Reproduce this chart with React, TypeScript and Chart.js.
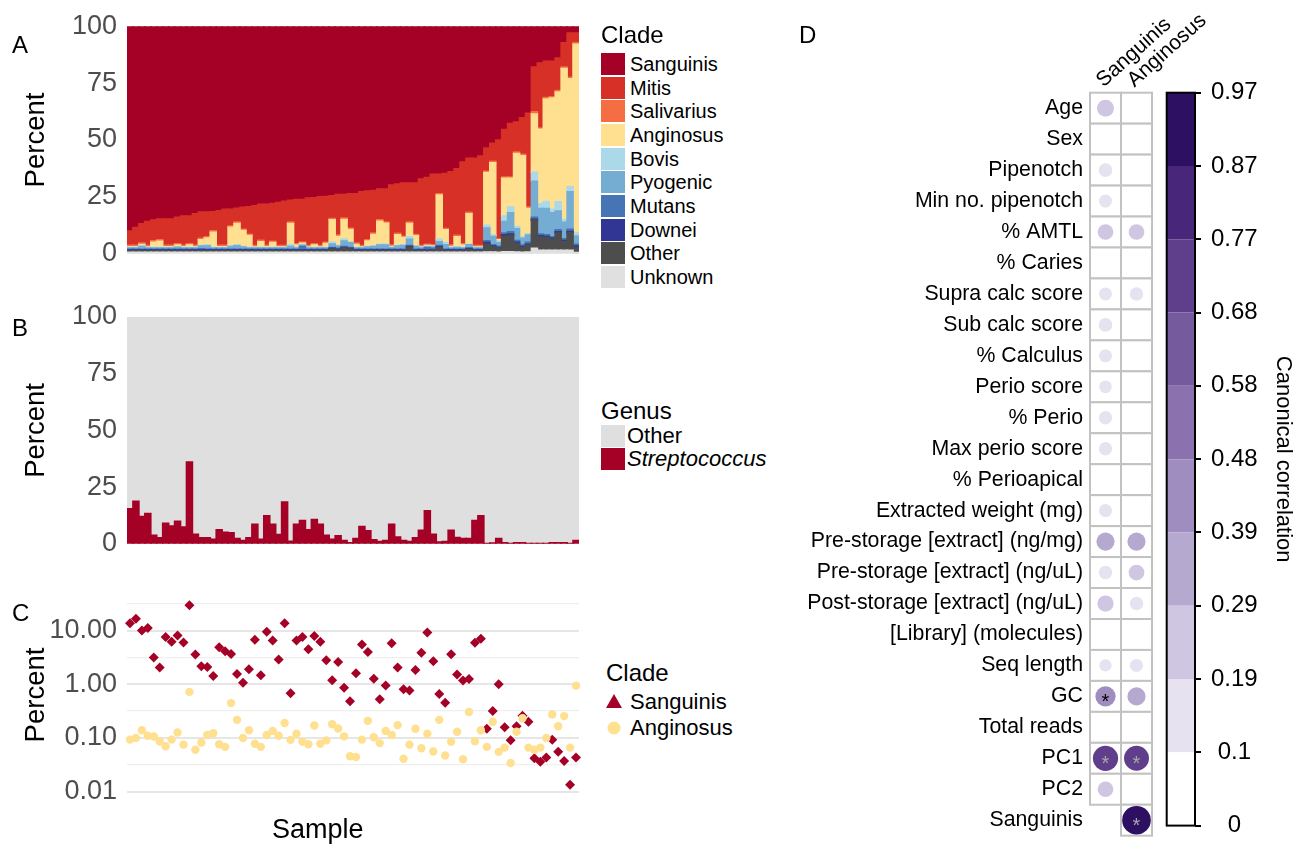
import React, { useEffect, useRef } from 'react';
import { Chart, registerables } from 'chart.js';

Chart.register(...registerables);

const FONT = '"Liberation Sans", Arial, Helvetica, sans-serif';
const TICK_GREY = '#4D4D4D';

// ---------------- Data ----------------
const sampleIds: string[] = Array.from({ length: 76 }, (_, i) => String(i + 1));

// Panel A: relative abundance of Streptococcus clades (% of Streptococcus)
const sanguinisRel = [
  90, 88.5, 86.8, 85.8, 85.2, 84.7, 84.7, 84.7, 84, 83.4,
  83.4, 82.4, 81.7, 81.7, 81.5, 81.1, 80.4, 80.4, 80, 79.6,
  79.4, 78.9, 78.3, 78.3, 77.9, 77.5, 76.9, 76.5, 76.2, 76.2,
  75.5, 75.4, 75, 74.9, 74.5, 74, 74, 73.6, 73.6, 72.8,
  72.4, 72.2, 71.6, 71.6, 69.8, 69.4, 68.9, 68.9, 68.9, 67.2,
  66.5, 65.1, 65.1, 64.7, 64, 62.6, 59.7, 58, 58, 57,
  53.5, 51.5, 50, 45.4, 42.8, 42.1, 40.3, 38.3, 18, 16.2,
  15.4, 15.4, 14, 7.3, 3, 3,
];
const mitisRel = [
  6.3, 7.8, 8.5, 10.6, 9.1, 9.2, 11.6, 11.6, 11.6, 12.9,
  12.2, 13.9, 11.5, 10.8, 8.4, 15.2, 15.9, 7.4, 6.1, 9.6,
  12, 17.5, 15.8, 18, 16.6, 18.9, 19.5, 9.6, 19.4, 18.6,
  20.9, 20.2, 21.4, 20, 10, 17.8, 10.3, 15.2, 21.7, 23.6,
  21.4, 18.7, 13.5, 14.4, 26.4, 21.6, 23.4, 17.2, 22.6, 29.2,
  29.3, 30.9, 8.5, 24.2, 32.2, 29.3, 35.9, 23.8, 38.4, 39.4,
  10.2, 7.9, 43.5, 20.9, 23.5, 13.2, 16, 41.2, 19.6, 28.5,
  16, 15.6, 14.3, 10.7, 19.5, 4.3,
];
const salivariusRel = [
  0.6, 0.6, 0.6, 0.6, 0.6, 0.6, 0.6, 0.6, 0.6, 0.6,
  0.6, 0.6, 0.6, 0.6, 0.6, 0.6, 0.6, 0.6, 0.6, 0.6,
  0.6, 0.6, 0.6, 0.6, 0.6, 0.6, 0.6, 0.6, 0.6, 0.6,
  0.6, 0.6, 0.6, 0.6, 0.6, 0.6, 0.6, 0.6, 0.6, 0.6,
  0.6, 0.6, 0.6, 0.6, 0.6, 0.6, 0.6, 0.6, 0.6, 0.6,
  0.6, 0.6, 0.6, 0.6, 0.6, 0.6, 0.6, 0.6, 0.6, 0.6,
  0.6, 0.6, 0.4, 0.5, 0.5, 0.6, 0.6, 0.6, 1.0, 0.6,
  0.6, 0.6, 0.6, 0.6, 0.6, 0.6,
];
const anginosusRel = [
  0.4, 0.4, 0.7, 0.3, 2.4, 2.8, 0.4, 0.4, 0.7, 0.4,
  1.1, 0.4, 2.6, 2.9, 6.8, 0.4, 0.4, 8.2, 9.3, 7.0,
  5.3, 0.3, 2.6, 0.4, 2.2, 0.3, 0.3, 9.3, 1.1, 0.7,
  0.3, 1.1, 0.3, 1.8, 9.8, 4.0, 8.6, 5.6, 1.4, 0.3,
  2.4, 5.1, 10.1, 9.2, 0.4, 4.8, 3.3, 5.8, 4.5, 0.3,
  0.3, 0.3, 19.4, 5.7, 0.5, 4.5, 1.1, 13.4, 0.3, 0.3,
  23.2, 31.8, 0.5, 16.6, 12.7, 32.1, 35.7, 11.1, 25.6, 32.7,
  45.0, 48.9, 48.3, 66.4, 47.5, 83.0,
];
const bovisRel = [
  0.2, 0.2, 0.2, 0.2, 0.2, 0.2, 0.2, 0.2, 0.2, 0.2,
  0.2, 0.2, 0.2, 0.6, 0.2, 0.2, 0.2, 0.2, 0.5, 0.2,
  0.2, 0.2, 0.2, 0.2, 0.2, 0.2, 0.2, 0.8, 0.2, 0.2,
  0.2, 0.2, 0.2, 0.2, 0.8, 0.2, 0.9, 0.2, 0.2, 0.2,
  0.2, 0.2, 0.4, 0.4, 0.2, 0.2, 0.2, 1.1, 0.2, 0.2,
  0.2, 0.2, 1.1, 0.8, 0.2, 0.2, 0.2, 0.2, 0.2, 0.2,
  1.2, 0.6, 0.8, 2.4, 2.5, 1.0, 0.6, 0.6, 3.9, 2.1,
  3.1, 1.5, 4.0, 1.2, 2.2, 1.3,
];
const pyogenicRel = [
  0.5, 0.5, 1.2, 0.5, 0.5, 0.5, 0.5, 0.5, 0.9, 0.5,
  0.5, 0.5, 1.2, 1.4, 0.5, 0.5, 0.5, 1.2, 1.5, 1.0,
  0.5, 0.5, 0.5, 0.5, 0.5, 0.5, 0.5, 1.2, 0.5, 0.5,
  0.5, 0.5, 0.5, 0.5, 1.5, 1.0, 2.4, 2.0, 0.5, 0.5,
  1.0, 1.2, 1.8, 1.8, 0.6, 1.4, 1.6, 2.8, 1.2, 0.5,
  0.5, 0.5, 1.7, 2.0, 0.5, 0.8, 0.5, 1.4, 0.5, 0.5,
  5.6, 3.6, 1.5, 5.1, 8.3, 5.2, 3.0, 3.2, 15.9, 11.2,
  11.5, 10.5, 8.3, 7.2, 16.4, 3.6,
];
const mutansRel = [
  0.4, 0.4, 0.4, 0.4, 0.4, 0.4, 0.4, 0.4, 0.4, 0.4,
  0.4, 0.4, 0.6, 0.4, 0.4, 0.4, 0.4, 0.4, 0.4, 0.4,
  0.4, 0.4, 0.4, 0.4, 0.4, 0.4, 0.4, 0.4, 0.4, 1.6,
  0.4, 0.4, 0.4, 0.4, 0.4, 0.4, 0.4, 0.4, 0.4, 0.4,
  0.4, 0.4, 0.4, 0.4, 0.4, 0.4, 0.4, 0.4, 0.4, 0.4,
  1.0, 0.8, 0.4, 0.4, 0.4, 0.4, 0.4, 0.4, 0.4, 0.4,
  0.8, 0.6, 0.5, 0.8, 1.0, 0.8, 0.6, 0.8, 0.8, 0.8,
  0.8, 0.7, 0.8, 0.8, 1.0, 0.8,
];
const downeiRel = [
  0.3, 0.3, 0.3, 0.3, 0.3, 0.3, 0.3, 0.3, 0.3, 0.3,
  0.3, 0.3, 0.3, 0.3, 0.3, 0.3, 0.3, 0.3, 0.3, 0.3,
  0.3, 0.3, 0.3, 0.3, 0.3, 0.3, 0.3, 0.3, 0.3, 0.3,
  0.3, 0.3, 0.3, 0.3, 0.3, 0.3, 0.3, 0.3, 0.3, 0.3,
  0.3, 0.3, 0.3, 0.3, 0.3, 0.3, 0.3, 0.3, 0.3, 0.3,
  0.3, 0.3, 0.3, 0.3, 0.3, 0.3, 0.3, 0.3, 0.3, 0.3,
  0.6, 0.4, 0.3, 0.6, 0.6, 0.5, 0.4, 0.4, 0.4, 0.5,
  0.5, 0.5, 0.6, 0.5, 0.6, 0.6,
];
const otherRel = [
  0.6, 0.6, 0.6, 0.6, 0.6, 0.6, 0.6, 0.6, 0.6, 0.6,
  0.6, 0.6, 0.6, 0.6, 0.6, 0.6, 0.6, 0.6, 0.6, 0.6,
  0.6, 0.6, 0.6, 0.6, 0.6, 0.6, 0.6, 0.6, 0.6, 0.6,
  0.6, 0.6, 0.6, 0.6, 1.4, 1.0, 1.8, 1.4, 0.6, 0.6,
  0.6, 0.6, 0.6, 0.6, 0.6, 0.6, 0.6, 2.2, 0.6, 0.6,
  0.6, 0.6, 2.2, 0.6, 0.6, 0.6, 0.6, 1.2, 0.6, 0.6,
  3.5, 2.2, 1.8, 6.8, 7.2, 3.7, 2.1, 3.0, 12.4, 5.9,
  5.6, 4.8, 7.6, 3.8, 7.7, 2.2,
];
const unknownRel = [
  0.7, 0.7, 0.7, 0.7, 0.7, 0.7, 0.7, 0.7, 0.7, 0.7,
  0.7, 0.7, 0.7, 0.7, 0.7, 0.7, 0.7, 0.7, 0.7, 0.7,
  0.7, 0.7, 0.7, 0.7, 0.7, 0.7, 0.7, 0.7, 0.7, 0.7,
  0.7, 0.7, 0.7, 0.7, 0.7, 0.7, 0.7, 0.7, 0.7, 0.7,
  0.7, 0.7, 0.7, 0.7, 0.7, 0.7, 0.7, 0.7, 0.7, 0.7,
  0.7, 0.7, 0.7, 0.7, 0.7, 0.7, 0.7, 0.7, 0.7, 0.7,
  0.8, 0.8, 0.7, 0.9, 0.9, 0.8, 0.7, 0.8, 2.4, 1.5,
  1.5, 1.5, 1.5, 1.5, 1.5, 0.6,
];

// legend order (top to bottom) and colours
const cladeNames = ['Sanguinis', 'Mitis', 'Salivarius', 'Anginosus', 'Bovis', 'Pyogenic', 'Mutans', 'Downei', 'Other', 'Unknown'];
const cladeColors = ['#A50026', '#D73027', '#F46D43', '#FEE090', '#ABD9E9', '#74ADD1', '#4575B4', '#313695', '#4D4D4D', '#E0E0E0'];
const cladeSeries = [sanguinisRel, mitisRel, salivariusRel, anginosusRel, bovisRel, pyogenicRel, mutansRel, downeiRel, otherRel, unknownRel];

// Panel B: Streptococcus % of all reads
const streptococcusPct = [
  15.4, 18.7, 12, 13.3, 3.8, 2.7, 9, 7.8, 9.9, 7.4,
  36, 4.2, 2.7, 2.7, 2, 6.2, 5.1, 4.8, 2.3, 1.4,
  2.7, 8.6, 2, 12.3, 8.6, 4.1, 18.4, 1.1, 8.6, 10.3,
  6.2, 10.7, 8.6, 3.8, 2, 3.5, 1.4, 0.4, 2.3, 7.6,
  5.7, 1.8, 1, 1.4, 8.6, 3, 1.4, 1, 2.7, 5.9,
  14.6, 4.2, 0.8, 1, 5.9, 2.8, 2.3, 2.3, 10.3, 12.3,
  0.1, 0.3, 2.3, 0.4, 0.1, 0.4, 0.4, 0.1, 0.1, 0.1,
  0.1, 0.4, 0.4, 0.4, 0.1, 1.4,
];
const genusNames = ['Other', 'Streptococcus'];
const genusColors = ['#DFDFDF', '#A50026'];

// Panel C: clade % of all reads (log scale)
const sanguinisTotalPct = [
  13.7, 16.5, 10, 11.1, 3.16, 2.04, 7.6, 6.2, 8.1, 6,
  29.6, 3.56, 2.15, 2.1, 1.43, 4.9, 4.1, 3.66, 1.55, 1.06,
  1.9, 6.7, 1.47, 9.5, 6.5, 2.9, 13.7, 0.68, 6.5, 7.6,
  4.5, 7.9, 6.2, 2.8, 1.19, 2.6, 0.86, 0.48, 1.6, 5.5,
  4, 1.27, 0.525, 0.95, 5.8, 2.04, 0.81, 0.76, 1.85, 3.87,
  9.2, 2.68, 0.66, 0.45, 3.6, 1.51, 1.17, 1.25, 5.9, 7,
  0.148, 0.316, 1.0, 0.158, 0.09, 0.165, 0.26, 0.2, 0.042, 0.036,
  0.043, 0.092, 0.055, 0.037, 0.0134, 0.043,
];
const anginosusTotalPct = [
  0.093, 0.1, 0.139, 0.11, 0.106, 0.086, 0.07, 0.093, 0.126, 0.075,
  0.72, 0.06, 0.082, 0.113, 0.122, 0.076, 0.068, 0.445, 0.217, 0.1,
  0.139, 0.078, 0.068, 0.113, 0.135, 0.11, 0.19, 0.092, 0.12, 0.085,
  0.076, 0.17, 0.078, 0.09, 0.18, 0.15, 0.107, 0.0455, 0.044, 0.093,
  0.208, 0.103, 0.08, 0.135, 0.113, 0.173, 0.041, 0.075, 0.148, 0.064,
  0.12, 0.056, 0.217, 0.047, 0.085, 0.13, 0.04, 0.305, 0.087, 0.139,
  0.068, 0.2, 0.055, 0.066, 0.034, 0.13, 0.232, 0.066, 0.06, 0.066,
  0.1, 0.273, 0.165, 0.255, 0.066, 0.94,
];
const percentTicks = [0, 25, 50, 75, 100];
const logGridValues = [0.01, 0.0316, 0.1, 0.316, 1, 3.16, 10, 31.6];
const logMajorValues = [0.01, 0.1, 1, 10];
const logMajorLabels = ['0.01', '0.10', '1.00', '10.00'];

// Panel D: canonical correlations
const traitLabels = [
  'Age', 'Sex', 'Pipenotch', 'Min no. pipenotch', '% AMTL', '% Caries', 'Supra calc score',
  'Sub calc score', '% Calculus', 'Perio score', '% Perio', 'Max perio score', '% Perioapical',
  'Extracted weight (mg)', 'Pre-storage [extract] (ng/mg)', 'Pre-storage [extract] (ng/uL)',
  'Post-storage [extract] (ng/uL)', '[Library] (molecules)', 'Seq length', 'GC', 'Total reads',
  'PC1', 'PC2', 'Sanguinis',
];
const corrColumns = ['Sanguinis', 'Anginosus'];
// lower triangle: Sanguinis column has no Sanguinis row
const corrSanguinis = [0.27, null, 0.15, 0.13, 0.22, null, 0.13, 0.15, 0.13, 0.12, 0.14, 0.14, null, 0.13, 0.32, 0.14, 0.24, null, 0.11, 0.42, null, 0.72, 0.22];
const corrAnginosus = [null, null, null, null, 0.22, null, 0.14, null, null, null, null, null, null, null, 0.32, 0.22, 0.14, null, 0.13, 0.32, null, 0.70, null, 0.97];
const sigSanguinis = ['GC', 'PC1'];
const sigAnginosus = ['PC1', 'Sanguinis'];
const colorbarBreaks = [0, 0.1, 0.19, 0.29, 0.39, 0.48, 0.58, 0.68, 0.77, 0.87, 0.97];
const colorbarTickLabels = ['0', '0.1', '0.19', '0.29', '0.39', '0.48', '0.58', '0.68', '0.77', '0.87', '0.97'];
const colorbarColors = ['#FFFFFF', '#E6E2F0', '#CFC7E1', '#B6A9CF', '#A08DBF', '#8B72AE', '#755A9D', '#5F3E8C', '#48277A', '#2E1062'];

// ---------------- helpers ----------------
function binColor(v: number) {
  let idx = 0;
  for (let i = 0; i < colorbarBreaks.length - 1; i++) if (v >= colorbarBreaks[i]) idx = i;
  return colorbarColors[Math.min(idx, colorbarColors.length - 1)];
}
function bubbleRadius(v: number) {
  return 2 + 12.5 * Math.sqrt(v);
}

const percentAxis = (): any => ({
  stacked: true,
  min: 0,
  max: 100,
  afterBuildTicks: (s: any) => { s.ticks = percentTicks.map((v) => ({ value: v })); },
  ticks: { color: TICK_GREY, font: { family: FONT, size: 27 }, padding: 10, autoSkip: false },
  grid: { display: false, drawTicks: false },
  border: { display: false },
  title: { display: true, text: 'Percent', color: '#000', font: { family: FONT, size: 27.5, lineHeight: 1.2 }, padding: { top: 20, bottom: 0 } },
  afterFit: (s: any) => { s.width = 127; },
});

const baseOptions = {
  animation: false,
  responsive: false,
  events: [],
};

function buildPanelA(): any {
  const order = [...cladeNames.keys()].reverse(); // bottom (Unknown) to top (Sanguinis)
  return {
    type: 'bar',
    data: {
      labels: sampleIds,
      datasets: order.map((i) => ({
        label: cladeNames[i],
        data: cladeSeries[i],
        backgroundColor: cladeColors[i],
        borderWidth: 0,
        barPercentage: 1,
        categoryPercentage: 1,
        inflateAmount: 0.8,
      })),
    },
    options: {
      ...baseOptions,
      layout: { padding: { top: 22, bottom: 23, right: 11, left: 0 } },
      plugins: { legend: { display: false }, tooltip: { enabled: false } },
      scales: { x: { stacked: true, display: false }, y: percentAxis() },
    },
  };
}

function buildPanelB(): any {
  const otherGenus = streptococcusPct.map((v) => 100 - v);
  return {
    type: 'bar',
    data: {
      labels: sampleIds,
      datasets: [
        { label: genusNames[1], data: streptococcusPct, backgroundColor: genusColors[1], borderWidth: 0, barPercentage: 1, categoryPercentage: 1, inflateAmount: 0.8 },
        { label: genusNames[0], data: otherGenus, backgroundColor: genusColors[0], borderWidth: 0, barPercentage: 1, categoryPercentage: 1, inflateAmount: 0.8 },
      ],
    },
    options: {
      ...baseOptions,
      layout: { padding: { top: 27, bottom: 19, right: 11, left: 0 } },
      plugins: { legend: { display: false }, tooltip: { enabled: false } },
      scales: { x: { stacked: true, display: false }, y: percentAxis() },
    },
  };
}

function buildPanelC(): any {
  const isMajor = (v: number) => logMajorValues.some((m) => Math.abs(m - v) < 1e-9);
  return {
    type: 'line',
    data: {
      labels: sampleIds,
      datasets: [
        {
          label: 'Anginosus', data: anginosusTotalPct, showLine: false,
          pointStyle: 'circle', pointRadius: 4.2, pointBackgroundColor: '#FEE090', pointBorderWidth: 0,
        },
        {
          label: 'Sanguinis', data: sanguinisTotalPct, showLine: false,
          pointStyle: 'rectRot', pointRadius: 5, pointBackgroundColor: '#A50026', pointBorderWidth: 0,
        },
      ],
    },
    options: {
      ...baseOptions,
      layout: { padding: { top: 24.8, bottom: 16.7, right: 11, left: 0 } },
      plugins: { legend: { display: false }, tooltip: { enabled: false } },
      scales: {
        x: { type: 'category', offset: true, display: false },
        y: {
          type: 'logarithmic',
          min: 0.0091,
          max: 43.6,
          afterBuildTicks: (s: any) => { s.ticks = logGridValues.map((v) => ({ value: v })); },
          ticks: {
            autoSkip: false,
            color: TICK_GREY,
            font: { family: FONT, size: 27 },
            padding: 10,
            callback: (v: number) => {
              const i = logMajorValues.findIndex((m) => Math.abs(m - v) < 1e-9);
              return i >= 0 ? logMajorLabels[i] : '';
            },
          },
          grid: {
            drawTicks: false,
            color: (ctx: any) => (ctx.tick && isMajor(ctx.tick.value) ? '#E6E6E6' : '#EFEFEF'),
            lineWidth: (ctx: any) => (ctx.tick && isMajor(ctx.tick.value) ? 2 : 1.2),
          },
          border: { display: false },
          title: { display: true, text: 'Percent', color: '#000', font: { family: FONT, size: 27.5, lineHeight: 1.2 }, padding: { top: 20, bottom: 0 } },
          afterFit: (s: any) => { s.width = 127; },
        },
      },
    },
  };
}

const cellPlugin = {
  id: 'corrCells',
  beforeDatasetsDraw(chart: any) {
    const { ctx, scales } = chart;
    const x = scales.x, y = scales.y;
    const cw = x.getPixelForValue(1) - x.getPixelForValue(0);
    const rh = y.getPixelForValue(1) - y.getPixelForValue(0);
    ctx.save();
    ctx.fillStyle = '#FFFFFF';
    ctx.strokeStyle = '#C2C2C2';
    ctx.lineWidth = 2;
    [corrSanguinis, corrAnginosus].forEach((col, ci) => {
      col.forEach((_v, ri) => {
        const cx = x.getPixelForValue(ci);
        const cy = y.getPixelForValue(ri);
        ctx.fillRect(cx - cw / 2, cy - rh / 2, cw, rh);
        ctx.strokeRect(cx - cw / 2, cy - rh / 2, cw, rh);
      });
    });
    ctx.restore();
  },
  afterDatasetsDraw(chart: any) {
    const { ctx, scales } = chart;
    const x = scales.x, y = scales.y;
    ctx.save();
    ctx.font = `20px ${FONT}`;
    ctx.textAlign = 'center';
    ctx.textBaseline = 'alphabetic';
    [[sigSanguinis, corrSanguinis], [sigAnginosus, corrAnginosus]].forEach(([sig, col]: any, ci) => {
      sig.forEach((lab: string) => {
        const ri = traitLabels.indexOf(lab);
        const v = col[ri] || 0;
        ctx.fillStyle = v > 0.5 ? '#A8A8A8' : '#000000';
        ctx.fillText('*', x.getPixelForValue(ci), y.getPixelForValue(ri) + 11.5);
      });
    });
    ctx.restore();
  },
};

function buildPanelD(): any {
  const points: any[] = [];
  [corrSanguinis, corrAnginosus].forEach((col, ci) => {
    col.forEach((v, ri) => {
      if (v != null && v > 0) points.push({ x: corrColumns[ci], y: traitLabels[ri], v });
    });
  });
  return {
    type: 'scatter',
    data: {
      datasets: [
        {
          data: points,
          pointRadius: (ctx: any) => bubbleRadius(ctx.raw ? ctx.raw.v : 0),
          pointBackgroundColor: (ctx: any) => binColor(ctx.raw ? ctx.raw.v : 0),
          pointBorderWidth: 0,
        },
      ],
    },
    options: {
      ...baseOptions,
      layout: { padding: { top: 0, left: 0, right: 142, bottom: 8 } },
      plugins: { legend: { display: false }, tooltip: { enabled: false } },
      scales: {
        x: {
          type: 'category', labels: corrColumns, position: 'top', offset: true,
          grid: { display: false, drawTicks: false }, border: { display: false },
          ticks: { color: '#000', font: { family: FONT, size: 21 }, minRotation: 42, maxRotation: 42, padding: 0, labelOffset: 11, autoSkip: false },
          afterFit: (s: any) => { s.height = 92.7; s.paddingLeft = 0; s.paddingRight = 0; },
        },
        y: {
          type: 'category', labels: traitLabels, offset: true,
          grid: { display: false, drawTicks: false }, border: { display: false },
          ticks: { color: '#000', font: { family: FONT, size: 21.3 }, padding: 7, autoSkip: false },
          afterFit: (s: any) => { s.width = 310; s.paddingTop = 0; s.paddingBottom = 0; },
        },
      },
    },
    plugins: [cellPlugin],
  };
}

const framePlugin = {
  id: 'cbFrame',
  afterDatasetsDraw(chart: any) {
    const { ctx, chartArea: a } = chart;
    ctx.save();
    ctx.strokeStyle = '#000';
    ctx.lineWidth = 2;
    ctx.strokeRect(a.left, a.top, a.right - a.left, a.bottom - a.top);
    ctx.restore();
  },
};

function buildColorbar(): any {
  return {
    type: 'bar',
    data: {
      labels: [''],
      datasets: colorbarColors.map((c, i) => ({
        label: colorbarTickLabels[i], data: [1], backgroundColor: c, borderWidth: 0,
        barPercentage: 1, categoryPercentage: 1, inflateAmount: 0,
      })),
    },
    options: {
      ...baseOptions,
      layout: { padding: { left: 26.7, top: 92.7, bottom: 8, right: 0 } },
      plugins: { legend: { display: false }, tooltip: { enabled: false } },
      scales: {
        x: { stacked: true, display: false },
        y: {
          stacked: true, min: 0, max: 10, position: 'right',
          afterBuildTicks: (s: any) => { s.ticks = colorbarTickLabels.map((_, i) => ({ value: i })); },
          ticks: {
            autoSkip: false, color: '#000', font: { family: FONT, size: 24 }, padding: 10, crossAlign: 'center',
            callback: (v: number) => colorbarTickLabels[v],
          },
          grid: { drawOnChartArea: false, drawTicks: true, tickLength: 6, color: '#000', lineWidth: 2 },
          border: { display: false },
          title: { display: true, text: 'Canonical correlation', color: '#000', font: { family: FONT, size: 22, lineHeight: 1 }, padding: { top: 0, bottom: 0 } },
          afterFit: (s: any) => { s.width = 99; },
        },
      },
    },
    plugins: [framePlugin],
  };
}

// ---------------- components ----------------
function CanvasChart({ left, top, width, height, build }: any) {
  const ref = useRef<HTMLCanvasElement>(null);
  useEffect(() => {
    const chart = new Chart(ref.current as HTMLCanvasElement, build());
    return () => chart.destroy();
  }, [build]);
  return <canvas ref={ref} width={width} height={height} style={{ position: 'absolute', left, top, width, height }} />;
}

function Txt({ left, top, size, children, style }: any) {
  return (
    <div style={{ position: 'absolute', left, top, fontSize: size, lineHeight: `${Math.round(size * 1.2)}px`, whiteSpace: 'nowrap', color: '#000', ...style }}>
      {children}
    </div>
  );
}

export default function App() {
  const legendA = cladeNames.map((n, i) => ({ n, c: cladeColors[i], cy: 64 + i * 23.67 }));
  return (
    <div style={{ position: 'absolute', left: 0, top: 0, width: 1294, height: 850, background: '#fff', fontFamily: FONT, overflow: 'hidden' }}>
      <CanvasChart left={0} top={0} width={590} height={280} build={buildPanelA} />
      <CanvasChart left={0} top={290} width={590} height={280} build={buildPanelB} />
      <CanvasChart left={0} top={570} width={590} height={250} build={buildPanelC} />
      <CanvasChart left={1140} top={0} width={154} height={850} build={buildColorbar} />
      <CanvasChart left={780} top={0} width={514} height={850} build={buildPanelD} />

      {/* panel letters */}
      <Txt left={12} top={30} size={24}>A</Txt>
      <Txt left={12} top={313} size={24}>B</Txt>
      <Txt left={12} top={598} size={24}>C</Txt>
      <Txt left={799} top={20} size={24}>D</Txt>

      {/* x title for panel C */}
      <Txt left={272} top={813} size={27}>Sample</Txt>

      {/* legend A */}
      <Txt left={601} top={20} size={24}>Clade</Txt>
      {legendA.map((e) => (
        <React.Fragment key={e.n}>
          <div style={{ position: 'absolute', left: 601, top: e.cy - 11, width: 24, height: 22, background: e.c }} />
          <Txt left={630} top={e.cy - 12} size={20} style={{ lineHeight: '24px' }}>{e.n}</Txt>
        </React.Fragment>
      ))}

      {/* legend B */}
      <Txt left={601} top={396} size={24}>Genus</Txt>
      <div style={{ position: 'absolute', left: 601, top: 425, width: 24, height: 22, background: genusColors[0] }} />
      <Txt left={627} top={423} size={22} style={{ lineHeight: '26px' }}>{genusNames[0]}</Txt>
      <div style={{ position: 'absolute', left: 601, top: 448, width: 24, height: 22, background: genusColors[1] }} />
      <Txt left={627} top={446} size={22} style={{ lineHeight: '26px', fontStyle: 'italic' }}>{genusNames[1]}</Txt>

      {/* legend C */}
      <Txt left={606} top={658} size={24}>Clade</Txt>
      <svg style={{ position: 'absolute', left: 604, top: 692 }} width={20} height={20}>
        <polygon points="10,2 18,16 2,16" fill="#A50026" />
      </svg>
      <Txt left={630} top={689} size={22} style={{ lineHeight: '26px' }}>Sanguinis</Txt>
      <svg style={{ position: 'absolute', left: 604, top: 718 }} width={20} height={20}>
        <circle cx={10} cy={10} r={6.5} fill="#FEE090" />
      </svg>
      <Txt left={630} top={715} size={22} style={{ lineHeight: '26px' }}>Anginosus</Txt>
    </div>
  );
}
